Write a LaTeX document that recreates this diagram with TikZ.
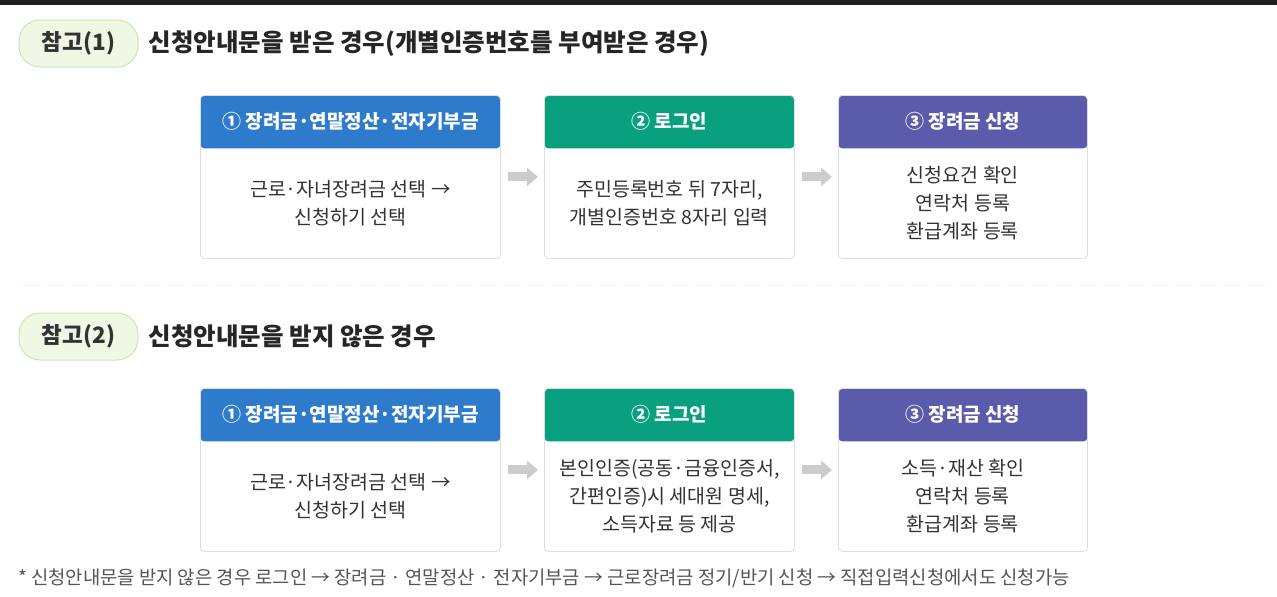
\documentclass[tikz,border=0pt]{standalone}
\usepackage{fontspec}
\setmainfont{Noto Sans CJK KR}
\usetikzlibrary{arrows.meta,positioning}
\definecolor{hblue}{HTML}{2F7BCB}
\definecolor{hgreen}{HTML}{08A07F}
\definecolor{hpurple}{HTML}{5A5BAB}
\definecolor{pillfill}{HTML}{EEF8E4}
\definecolor{pillline}{HTML}{CDE6B0}
\definecolor{cardline}{HTML}{DDDDDD}
\definecolor{topbar}{HTML}{1F1F1F}
\definecolor{txt}{HTML}{333333}
\definecolor{notetxt}{HTML}{555555}

\begin{document}
\begin{tikzpicture}
      [x = 1pt, y = -1pt,
       card/.style = {draw = cardline, line width = .8pt, fill = white,
         rounded corners = 4pt, minimum height = 163pt, inner sep = 0pt,
         anchor = north west,
         path picture = {\fill[#1] (path picture bounding box.north west)
           rectangle ([yshift = -53pt]path picture bounding box.north east);}},
       head/.style = {text = white, font = \fontsize{19}{21}\selectfont\bfseries},
       body/.style = {text = txt, font = \fontsize{19.5}{28}\selectfont, align = center},
       pill/.style = {draw = pillline, fill = pillfill, line width = 1pt,
         rounded corners = 21pt, minimum width = 119pt, minimum height = 47pt,
         text = txt, font = \fontsize{22.5}{24}\selectfont\bfseries},
       title/.style = {text = black!85, font = \fontsize{24.5}{26}\selectfont\bfseries,
         inner sep = 0pt, anchor = west},
       flow/.style = {draw = black!20, line width = 9pt,
         -{Triangle[length = 11pt, width = 18pt]},
         shorten < = 7pt, shorten > = 6pt}]
      \useasboundingbox (0,0) rectangle (1277,597);
      \fill[topbar] (0,0) rectangle (1277,5);
      % headings
      \node[pill] (ref1) at (78.5,43.5) {참고(1)};
      \node[title, right = 10pt of ref1] (title1) {신청안내문을 받은 경우(개별인증번호를 부여받은 경우)};
      \node[pill] (ref2) at (78.5,336.5) {참고(2)};
      \node[title, right = 10pt of ref2] (title2) {신청안내문을 받지 않은 경우};
      \draw[cardline, dotted, line width = 1pt] (18,285) -- (1268,285);
      % cards
      \foreach \r/\y in {a/95, b/388} {
        \node[card = hblue, minimum width = 300pt] (c1\r) at (200,\y) {};
        \node[card = hgreen, minimum width = 250pt] (c2\r) at (544,\y) {};
        \node[card = hpurple, minimum width = 249pt] (c3\r) at (838,\y) {};
        \node[head] (h1\r) at ([yshift = -26.5pt]c1\r.north) {① 장려금·연말정산·전자기부금};
        \node[head] (h2\r) at ([yshift = -26.5pt]c2\r.north) {② 로그인};
        \node[head] (h3\r) at ([yshift = -26.5pt]c3\r.north) {③ 장려금 신청};
        \draw[flow] (c1\r) -- (c2\r);
        \draw[flow] (c2\r) -- (c3\r);
      }
      \node[body] (b1a) at ([yshift = -108pt]c1a.north) {근로·자녀장려금 선택 →\\신청하기 선택};
      \node[body] (b2a) at ([yshift = -108pt]c2a.north) {주민등록번호 뒤 7자리,\\개별인증번호 8자리 입력};
      \node[body] (b3a) at ([yshift = -108pt]c3a.north) {신청요건 확인\\연락처 등록\\환급계좌 등록};
      \node[body] (b1b) at ([yshift = -108pt]c1b.north) {근로·자녀장려금 선택 →\\신청하기 선택};
      \node[body] (b2b) at ([yshift = -108pt]c2b.north) {본인인증(공동·금융인증서,\\간편인증)시 세대원 명세,\\소득자료 등 제공};
      \node[body] (b3b) at ([yshift = -108pt]c3b.north) {소득·재산 확인\\연락처 등록\\환급계좌 등록};
      % note
      \node[anchor = west, inner sep = 0pt, text = notetxt, font = \fontsize{18.8}{20}\selectfont]
        (note) at (18,578) {* 신청안내문을 받지 않은 경우 로그인 → 장려금 · 연말정산 · 전자기부금 → 근로장려금 정기/반기 신청 → 직접입력신청에서도 신청가능};
\end{tikzpicture}
\end{document}
